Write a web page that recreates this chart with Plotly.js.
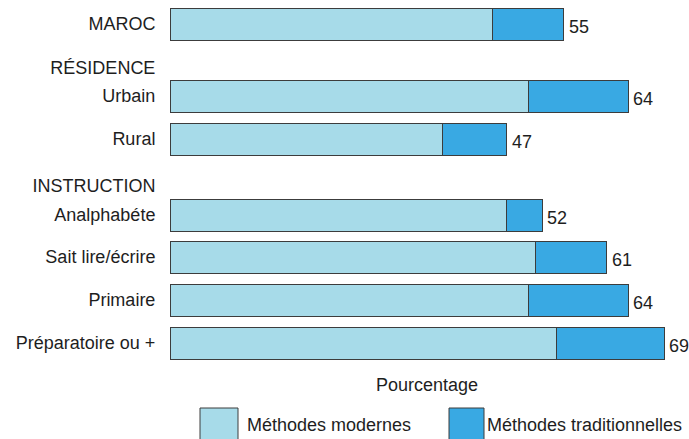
<!DOCTYPE html>
<html>
<head>
<meta charset="utf-8">
<script src="https://cdn.plot.ly/plotly-3.0.1.min.js"></script>
<style>html,body{margin:0;padding:0;background:#fff;}#chart{width:689px;height:439px;}</style>
</head>
<body>
<div id="chart"></div>
<script>
// ---- data ----
const categories = ["MAROC", "Urbain", "Rural", "Analphabéte", "Sait lire/écrire", "Primaire", "Préparatoire ou +"];
const groupHeaders = ["RÉSIDENCE", "INSTRUCTION"];
const modernes = [45, 50, 38, 47, 51, 50, 54];
const traditionnelles = [10, 14, 9, 5, 10, 14, 15];
const totals = [55, 64, 47, 52, 61, 64, 69];
const seriesNames = ["Méthodes modernes", "Méthodes traditionnelles"];
const axisTitle = "Pourcentage";

// ---- layout (positions in pixel units of the y axis) ----
const rowY = [24, 96, 139, 215, 257, 300, 343];
const headerY = [68, 186];
const colModern = "#a7dbe9";
const colTrad = "#39a9e3";
const edge = "#3c3c3c";
const txt = "#1e1e1e";
const FONT = "Liberation Sans, Arial, sans-serif";
const FS = 18;

const traces = [
  {type: "bar", orientation: "h", name: seriesNames[0], x: modernes, y: rowY, width: 32,
   marker: {color: colModern, line: {color: edge, width: 1}}, hoverinfo: "none", showlegend: false},
  {type: "bar", orientation: "h", name: seriesNames[1], x: traditionnelles, y: rowY, width: 32,
   marker: {color: colTrad, line: {color: edge, width: 1}}, hoverinfo: "none", showlegend: false}
];

const annotations = totals.map((t, i) => ({
  x: t, y: rowY[i], xref: "x", yref: "y", text: String(t), showarrow: false,
  xanchor: "left", yanchor: "middle", xshift: 3, yshift: -3,
  font: {family: FONT, size: FS, color: txt}
}));
annotations.push({x: 0.514, y: 385, xref: "paper", yref: "y", text: axisTitle, showarrow: false,
  xanchor: "center", yanchor: "middle", font: {family: FONT, size: FS, color: txt}});
annotations.push({x: 0.150, y: 425, xref: "paper", yref: "y", text: seriesNames[0], showarrow: false,
  xanchor: "left", yanchor: "middle", font: {family: FONT, size: FS, color: txt}});
annotations.push({x: 0.630, y: 425, xref: "paper", yref: "y", text: seriesNames[1], showarrow: false,
  xanchor: "left", yanchor: "middle", font: {family: FONT, size: FS, color: txt}});

const shapes = [
  {type: "rect", xref: "paper", yref: "y", x0: 0.06, x1: 0.136, y0: 408, y1: 440,
   fillcolor: colModern, line: {color: edge, width: 1}},
  {type: "rect", xref: "paper", yref: "y", x0: 0.558, x1: 0.628, y0: 408, y1: 440,
   fillcolor: colTrad, line: {color: edge, width: 1}}
];

const layout = {
  width: 689, height: 439,
  margin: {l: 170, r: 19, t: 0, b: 0, pad: 0},
  paper_bgcolor: "#fff", plot_bgcolor: "#fff",
  barmode: "stack",
  font: {family: FONT, size: FS, color: txt},
  xaxis: {range: [0, 500 / 7.16], visible: false, fixedrange: true},
  yaxis: {range: [439, 0], showgrid: false, zeroline: false, showline: false,
    tickvals: rowY.concat(headerY), ticktext: categories.concat(groupHeaders),
    ticks: "outside", ticklen: 10, tickcolor: "rgba(0,0,0,0)",
    tickfont: {family: FONT, size: FS, color: txt}, fixedrange: true},
  annotations: annotations,
  shapes: shapes,
  showlegend: false
};

Plotly.newPlot("chart", traces, layout, {displayModeBar: false, staticPlot: true});
</script>
</body>
</html>
